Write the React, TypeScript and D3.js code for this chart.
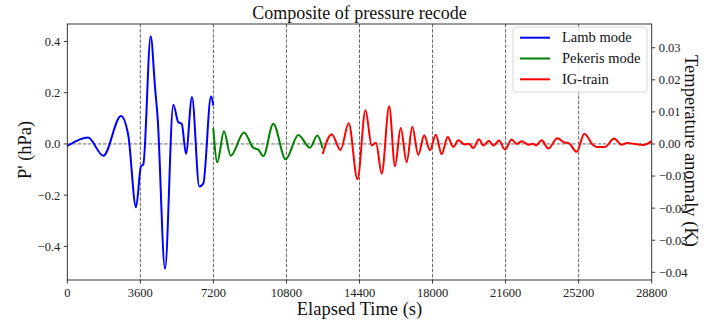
import React from 'react';
import * as d3 from 'd3';

const xTicks = [0, 3600, 7200, 10800, 14400, 18000, 21600, 25200, 28800];
const leftTicks = [0.4, 0.2, 0.0, -0.2, -0.4];
const leftLabels = ['0.4', '0.2', '0.0', '\u22120.2', '\u22120.4'];
const rightTicks = [0.03, 0.02, 0.01, 0.0, -0.01, -0.02, -0.03, -0.04];
const rightLabels = ['0.03', '0.02', '0.01', '0.00', '\u22120.01', '\u22120.02', '\u22120.03', '\u22120.04'];

const lambT = [0, 1020, 1774, 2646, 3006, 3386, 3632, 3745, 4110, 4322, 4455, 4815, 5224, 5470, 5638, 5850, 6145, 6505, 6702, 7082, 7195];
const lambV = [-0.008, 0.025, -0.046, 0.109, 0.033, -0.247, -0.087, -0.080, 0.420, 0.222, 0.098, -0.487, 0.153, 0.085, 0.079, -0.038, 0.183, -0.166, -0.155, 0.186, 0.15];

const pekT = [7195, 7392, 7722, 8052, 8708, 9166, 9413, 9659, 10152, 10763, 11384, 11960, 12320, 12586];
const pekV = [0.061, -0.071, 0.049, -0.046, 0.045, -0.015, -0.022, -0.047, 0.079, -0.060, 0.035, -0.015, 0.033, -0.018];

const igT = [12586, 13030, 13464, 13867, 14301, 14695, 15000, 15213, 15494, 15863, 16149, 16430, 16726, 17002, 17297, 17588, 17874, 18160, 18450, 18746, 19022, 19268, 19599, 19796, 20008, 20289, 20500, 20781, 20993, 21274, 21570, 21900, 22146, 22407, 22718, 22965, 23098, 23379, 23704, 24147, 24527, 24690, 25103, 25478, 25921, 26118, 26498, 26941, 27320, 27567, 27892, 28385, 28800];
const igV = [-0.039, 0.038, -0.024, 0.081, -0.138, 0.131, -0.006, 0.005, -0.116, 0.147, -0.087, 0.062, -0.071, 0.067, -0.043, 0.034, -0.025, 0.036, -0.040, 0.027, -0.012, 0.014, -0.002, 0.001, -0.016, 0.018, -0.006, 0.012, -0.006, 0.013, -0.022, 0.017, 0.0, 0.010, -0.003, 0.001, -0.006, 0.014, -0.018, 0.022, 0.005, 0.004, -0.031, 0.040, -0.005, -0.012, -0.012, 0.021, -0.003, 0.004, 0.001, -0.004, 0.011];

const seriesNames = ['Lamb mode', 'Pekeris mode', 'IG-train'];
const seriesColors = ['#0000ff', '#008000', '#ff0000'];

const FONT = '"Liberation Serif", "Times New Roman", serif';

export default function App() {
  const W = 712, H = 320;
  const x = d3.scaleLinear().domain([0, 28800]).range([67.3, 651.7]);
  const y = d3.scaleLinear().domain([-0.531, 0.468]).range([280, 24]);
  const yR = d3.scaleLinear().domain([-0.0424, 0.0374]).range([280, 24]);
  const line = d3.line<[number, number]>().x(d => x(d[0])).y(d => y(d[1])).curve(d3.curveMonotoneX);
  const series = [
    lambT.map((t, i) => [t, lambV[i]] as [number, number]),
    pekT.map((t, i) => [t, pekV[i]] as [number, number]),
    igT.map((t, i) => [t, igV[i]] as [number, number]),
  ];
  const [x0, x1] = x.range();
  const [yb, yt] = y.range();
  return (
    <svg width={W} height={H} style={{ position: 'absolute', left: 0, top: 0, background: '#fff' }} fontFamily={FONT}>
      <rect x={0} y={0} width={W} height={H} fill="#fff" />
      {xTicks.slice(1, -1).map(t => (
        <line key={'g' + t} x1={x(t)} x2={x(t)} y1={yt} y2={yb} stroke="#555" strokeWidth={0.9} strokeDasharray="3.5,1.6" />
      ))}
      <line x1={x0} x2={x1} y1={y(0)} y2={y(0)} stroke="#555" strokeWidth={0.9} strokeDasharray="3.5,1.6" />
      {series.map((s, i) => (
        <path key={i} d={line(s) || ''} fill="none" stroke={seriesColors[i]} strokeWidth={2} strokeLinejoin="round" />
      ))}
      <rect x={x0} y={yt} width={x1 - x0} height={yb - yt} fill="none" stroke="#222" strokeWidth={0.9} />
      {xTicks.map(t => (
        <g key={'x' + t}>
          <line x1={x(t)} x2={x(t)} y1={yb} y2={yb + 3.5} stroke="#222" strokeWidth={0.9} />
          <text x={x(t)} y={296.5} textAnchor="middle" fontSize={12.5} fill="#222">{t}</text>
        </g>
      ))}
      {leftTicks.map((v, i) => (
        <g key={'l' + i}>
          <line x1={x0 - 3.5} x2={x0} y1={y(v)} y2={y(v)} stroke="#222" strokeWidth={0.9} />
          <text x={x0 - 7} y={y(v)} dy="0.35em" textAnchor="end" fontSize={12.5} fill="#222">{leftLabels[i]}</text>
        </g>
      ))}
      {rightTicks.map((v, i) => (
        <g key={'r' + i}>
          <line x1={x1} x2={x1 + 3.5} y1={yR(v)} y2={yR(v)} stroke="#222" strokeWidth={0.9} />
          <text x={x1 + 7} y={yR(v)} dy="0.35em" textAnchor="start" fontSize={12.5} fill="#222">{rightLabels[i]}</text>
        </g>
      ))}
      <text x={(x0 + x1) / 2} y={19} textAnchor="middle" fontSize={18} fill="#111">Composite of pressure recode</text>
      <text x={(x0 + x1) / 2} y={315} textAnchor="middle" fontSize={18.5} fill="#111">Elapsed Time (s)</text>
      <text transform={`translate(31,${y(0) + 6}) rotate(-90)`} textAnchor="middle" fontSize={18.5} fill="#111">P' (hPa)</text>
      <text transform={`translate(685,151) rotate(90)`} textAnchor="middle" fontSize={18.5} fill="#111">Temperature anomaly (K)</text>
      <g>
        <rect x={513} y={27} width={134} height={65} rx={3} fill="#fff" fillOpacity={0.85} stroke="#d0d0d0" strokeWidth={0.9} />
        {seriesNames.map((n, i) => (
          <g key={n}>
            <line x1={520} x2={550} y1={37.7 + i * 20.8} y2={37.7 + i * 20.8} stroke={seriesColors[i]} strokeWidth={2} />
            <text x={562} y={37.7 + i * 20.8} dy="0.33em" fontSize={14.5} fill="#111">{n}</text>
          </g>
        ))}
      </g>
    </svg>
  );
}
